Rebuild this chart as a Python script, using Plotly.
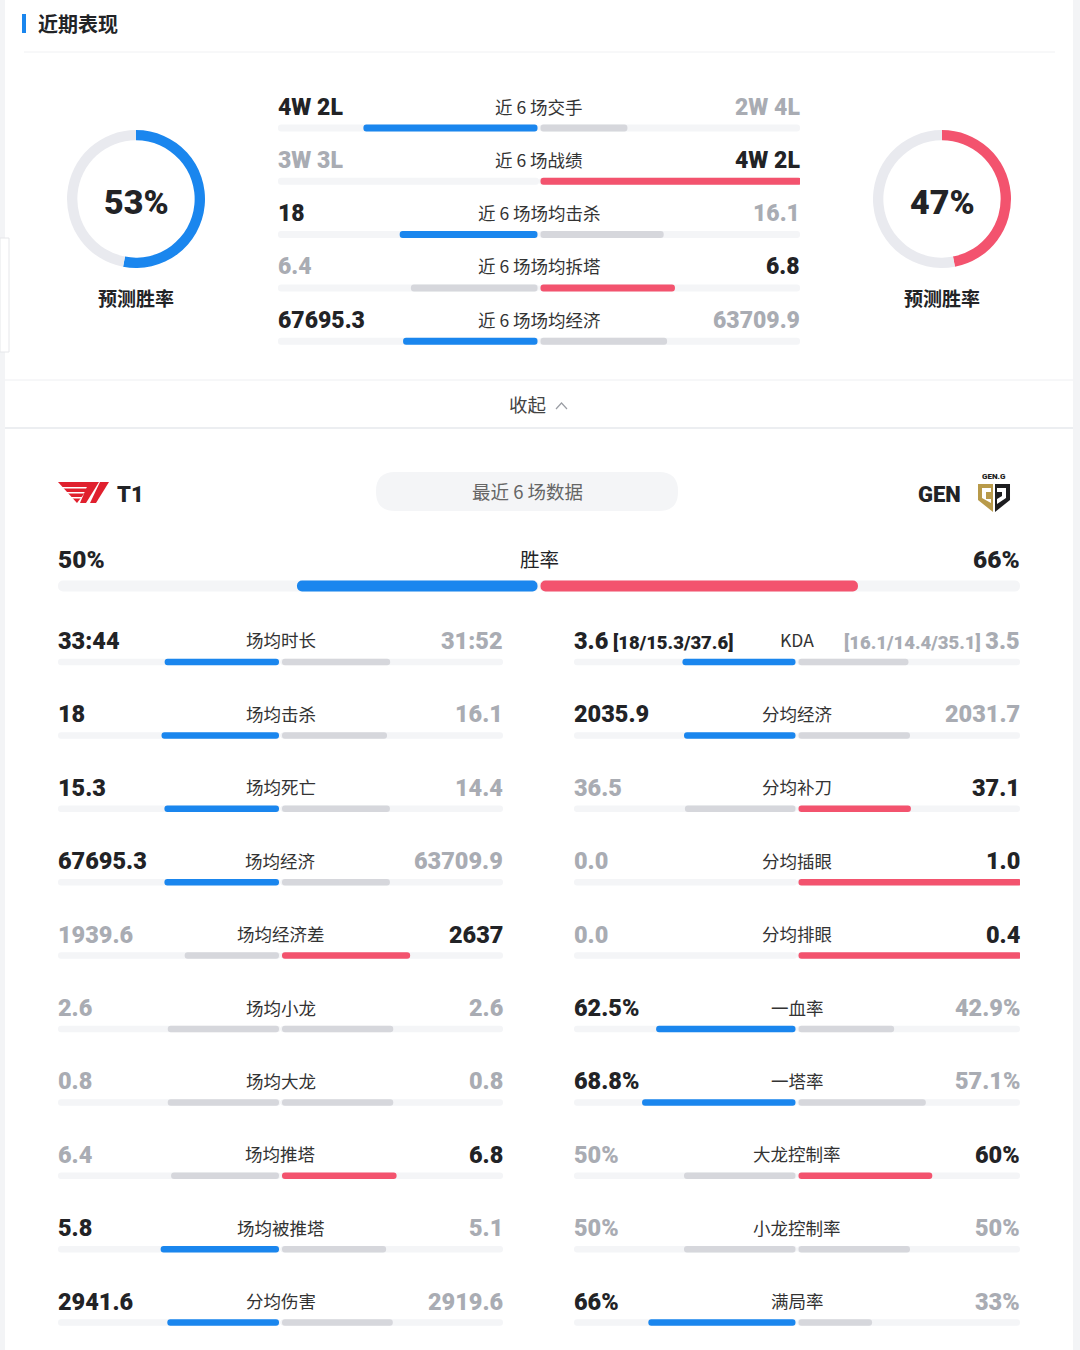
import plotly.graph_objects as go

W, H = 1080, 1350
BLUE = '#1a86ee'
PINK = '#f3536e'
GREY_BAR = '#d6d7dc'
TRACK = '#f4f5f7'
RING = '#e9eaef'
DARK = '#222326'
MUTED = '#a9acb3'
LABEL = '#333333'
NUM_FONT = 'Roboto'
CJK = 'Noto Sans CJK SC'

# ---------------- data ----------------
pred_t1 = 53
pred_gen = 47

top_labels = ['近 6 场交手', '近 6 场战绩', '近 6 场场均击杀', '近 6 场场均拆塔', '近 6 场场均经济']
top_left = ['4W 2L', '3W 3L', '18', '6.4', '67695.3']
top_right = ['2W 4L', '4W 2L', '16.1', '6.8', '63709.9']
top_winner = ['L', 'R', 'L', 'R', 'L']
top_share_left = [0.667, 0.0, 0.528, 0.485, 0.515]
top_share_right = [0.333, 1.0, 0.472, 0.515, 0.485]

team_left = 'T1'
team_right = 'GEN'
period_label = '最近 6 场数据'
winrate_label = '胜率'
winrate_left = '50%'
winrate_right = '66%'
winrate_share_left = [0.50]
winrate_share_right = [0.66]

colA_labels = ['场均时长', '场均击杀', '场均死亡', '场均经济', '场均经济差',
               '场均小龙', '场均大龙', '场均推塔', '场均被推塔', '分均伤害']
colA_left = ['33:44', '18', '15.3', '67695.3', '1939.6', '2.6', '0.8', '6.4', '5.8', '2941.6']
colA_right = ['31:52', '16.1', '14.4', '63709.9', '2637', '2.6', '0.8', '6.8', '5.1', '2919.6']
colA_winner = ['L', 'L', 'L', 'L', 'R', '-', '-', 'R', 'L', 'L']
colA_share_left = [0.514, 0.528, 0.515, 0.515, 0.424, 0.5, 0.5, 0.485, 0.532, 0.502]
colA_share_right = [0.486, 0.472, 0.485, 0.485, 0.576, 0.5, 0.5, 0.515, 0.468, 0.498]

colB_labels = ['KDA', '分均经济', '分均补刀', '分均插眼', '分均排眼',
               '一血率', '一塔率', '大龙控制率', '小龙控制率', '满局率']
colB_left = ['3.6', '2035.9', '36.5', '0.0', '0.0', '62.5%', '68.8%', '50%', '50%', '66%']
colB_right = ['3.5', '2031.7', '37.1', '1.0', '0.4', '42.9%', '57.1%', '60%', '50%', '33%']
colB_left_extra = ['[18/15.3/37.6]', '', '', '', '', '', '', '', '', '']
colB_right_extra = ['[16.1/14.4/35.1]', '', '', '', '', '', '', '', '', '']
colB_winner = ['L', 'L', 'R', 'R', 'R', 'L', 'L', 'R', '-', 'L']
colB_share_left = [0.507, 0.500, 0.496, 0.0, 0.0, 0.625, 0.688, 0.5, 0.5, 0.66]
colB_share_right = [0.493, 0.500, 0.504, 1.0, 1.0, 0.429, 0.571, 0.6, 0.5, 0.33]


# ---------------- helpers ----------------
def X(px):
    return px / W


def Y(py):
    return 1 - py / H


fig = go.Figure()
layout_axes = {}
annotations = []
shapes = []


def numfont(size, color):
    return dict(family=NUM_FONT, size=size, color=color, weight=900)


def add_panel(idx, x0, x1, n, first_bar_px, step_px, thick_px,
              share_l, share_r, winner, vals_l, vals_r, labels,
              val_size, lab_size, text_shift, extra_l=None, extra_r=None, lab_color=LABEL,
              left_colour=None, right_colour=None):
    xa = 'x' if idx == 1 else f'x{idx}'
    ya = 'y' if idx == 1 else f'y{idx}'
    pad = 12
    top = first_bar_px - pad
    bottom = first_bar_px + step_px * (n - 1) + pad
    layout_axes['xaxis' if idx == 1 else f'xaxis{idx}'] = dict(
        domain=[X(x0), X(x1)], range=[-1, 1], visible=False, fixedrange=True,
        anchor=ya)
    layout_axes['yaxis' if idx == 1 else f'yaxis{idx}'] = dict(
        domain=[Y(bottom), Y(top)], range=[n - 1 + pad / step_px, -pad / step_px],
        visible=False, fixedrange=True, anchor=xa)
    half_px = (x1 - x0) / 2
    gap = 1.5 / half_px
    width = thick_px / step_px
    rows = list(range(n))
    rad = thick_px / 2
    for sgn in (-1, 1):
        fig.add_trace(go.Bar(orientation='h', y=rows, x=[sgn * 1.0] * n, base=0,
                             width=width, marker=dict(color=TRACK, cornerradius=rad, line_width=0),
                             xaxis=xa, yaxis=ya, hoverinfo='skip', showlegend=False))
    cl = left_colour or [BLUE if w == 'L' else GREY_BAR for w in winner]
    cr = right_colour or [PINK if w == 'R' else GREY_BAR for w in winner]
    fig.add_trace(go.Bar(orientation='h', y=rows, x=[-s for s in share_l], base=-gap,
                         width=width, marker=dict(color=cl, cornerradius=rad, line_width=0),
                         xaxis=xa, yaxis=ya, hoverinfo='skip', showlegend=False))
    fig.add_trace(go.Bar(orientation='h', y=rows, x=list(share_r), base=gap,
                         width=width, marker=dict(color=cr, cornerradius=rad, line_width=0),
                         xaxis=xa, yaxis=ya, hoverinfo='skip', showlegend=False))
    for i in range(n):
        lc = DARK if winner[i] in ('L', 'B') else MUTED
        rc = DARK if winner[i] in ('R', 'B') else MUTED
        tl = vals_l[i]
        tr = vals_r[i]
        if extra_l and extra_l[i]:
            tl += f"<span style='font-size:{val_size - 5}px'> {extra_l[i]}</span>"
        if extra_r and extra_r[i]:
            tr = f"<span style='font-size:{val_size - 5}px'>{extra_r[i]} </span>" + tr
        annotations.append(dict(text=tl, x=-1, y=i, xref=xa, yref=ya, xanchor='left',
                                yanchor='middle', yshift=text_shift, xshift=-2, showarrow=False,
                                font=numfont(val_size, lc)))
        annotations.append(dict(text=tr, x=1, y=i, xref=xa, yref=ya, xanchor='right',
                                yanchor='middle', yshift=text_shift, xshift=2, showarrow=False,
                                font=numfont(val_size, rc)))
        annotations.append(dict(text=labels[i], x=0, y=i, xref=xa, yref=ya, xanchor='center',
                                yanchor='middle', yshift=text_shift + 1, showarrow=False,
                                font=dict(family=CJK, size=lab_size, color=lab_color)))


# top comparison
add_panel(1, 278, 800, 5, 128, 53.3, 7, top_share_left, top_share_right, top_winner,
          top_left, top_right, top_labels, 23, 17.5, 21)
# win rate (both sides coloured)
add_panel(2, 58, 1020, 1, 586, 40, 11, winrate_share_left, winrate_share_right, ['B'],
          [winrate_left], [winrate_right], [winrate_label], 24.5, 19.5, 26, lab_color=DARK,
          left_colour=[BLUE], right_colour=[PINK])
# bottom columns
add_panel(3, 58, 503, 10, 662, 73.4, 6.5, colA_share_left, colA_share_right, colA_winner,
          colA_left, colA_right, colA_labels, 23.5, 17.5, 21)
add_panel(4, 574, 1020, 10, 662, 73.4, 6.5, colB_share_left, colB_share_right, colB_winner,
          colB_left, colB_right, colB_labels, 23.5, 17.5, 21, colB_left_extra, colB_right_extra)

# donuts
for pct, col, cx in ((pred_t1, BLUE, 136), (pred_gen, PINK, 942)):
    fig.add_trace(go.Pie(values=[pct, 100 - pct], sort=False, direction='clockwise', rotation=0,
                         hole=0.85, domain=dict(x=[X(cx - 69), X(cx + 69)], y=[Y(268), Y(130)]),
                         marker=dict(colors=[col, RING], line=dict(width=0)),
                         textinfo='none', hoverinfo='skip', showlegend=False))
    annotations.append(dict(text=f'{pct}%', x=X(cx), y=Y(202), xref='paper', yref='paper',
                            showarrow=False, xanchor='center', yanchor='middle',
                            font=numfont(34, DARK)))
    annotations.append(dict(text='<b>预测胜率</b>', x=X(cx), y=Y(298), xref='paper', yref='paper',
                            showarrow=False, xanchor='center', yanchor='middle',
                            font=dict(family=CJK, size=19, color=DARK)))


def txt(text, x, y, size, color, anchor='left', family=CJK, weight=None):
    f = dict(family=family, size=size, color=color)
    if weight:
        f['weight'] = weight
    annotations.append(dict(text=text, x=X(x), y=Y(y), xref='paper', yref='paper',
                            showarrow=False, xanchor=anchor, yanchor='middle', font=f))


txt('<b>近期表现</b>', 36, 23, 20, DARK)
txt('收起', 527, 404, 18.5, '#444444', 'center')
txt(team_left, 115, 494, 22, DARK, 'left', NUM_FONT, 900)
txt(team_right, 963, 494, 22, DARK, 'right', NUM_FONT, 900)
txt(period_label, 527, 491, 18.5, '#666666', 'center')
txt('GEN.G', 994, 477, 8, '#222222', 'center', NUM_FONT, 900)


# ---------------- decorative shapes ----------------
def rect(x0, y0, x1, y1, fill, line=None, layer='below'):
    shapes.append(dict(type='rect', xref='paper', yref='paper', x0=X(x0), x1=X(x1),
                       y0=Y(y1), y1=Y(y0), fillcolor=fill, layer=layer,
                       line=dict(width=0 if line is None else 1, color=line or fill)))


def hline(x0, x1, y, color, width=1):
    shapes.append(dict(type='line', xref='paper', yref='paper', x0=X(x0), x1=X(x1),
                       y0=Y(y), y1=Y(y), line=dict(color=color, width=width), layer='below'))


def poly(pts, fill, layer='above'):
    d = 'M ' + ' L '.join(f'{X(a):.5f},{Y(b):.5f}' for a, b in pts) + ' Z'
    shapes.append(dict(type='path', xref='paper', yref='paper', path=d, fillcolor=fill,
                       line=dict(width=0), layer=layer))


def rounded(x0, y0, x1, y1, r, fill):
    d = f'M {X(x0 + r)},{Y(y0)} L {X(x1 - r)},{Y(y0)} Q {X(x1)},{Y(y0)} {X(x1)},{Y(y0 + r)} '
    d += f'L {X(x1)},{Y(y1 - r)} Q {X(x1)},{Y(y1)} {X(x1 - r)},{Y(y1)} '
    d += f'L {X(x0 + r)},{Y(y1)} Q {X(x0)},{Y(y1)} {X(x0)},{Y(y1 - r)} '
    d += f'L {X(x0)},{Y(y0 + r)} Q {X(x0)},{Y(y0)} {X(x0 + r)},{Y(y0)} Z'
    shapes.append(dict(type='path', xref='paper', yref='paper', path=d, fillcolor=fill,
                       line=dict(width=0), layer='below'))


rect(0, 0, 5, 1350, '#f3f4f6')
rect(1073, 0, 1080, 1350, '#f3f4f6')
rect(0, 238, 9, 352, '#ffffff', '#e6e7ea')
rect(22, 14, 26, 33, BLUE)
hline(24, 1055, 52, '#f0f1f3')
hline(5, 1073, 380, '#eeeff2')
hline(5, 1073, 428, '#eceef1', 2)
rounded(376, 472, 678, 511, 19, '#f4f5f7')
# chevron next to 收起
shapes.append(dict(type='path', xref='paper', yref='paper',
                   path=f'M {X(556)},{Y(409)} L {X(561.5)},{Y(403)} L {X(567)},{Y(409)}',
                   line=dict(color='#9a9da4', width=1.2)))
# T1 logo (approximate)
poly([(58, 482), (93, 482), (77, 503)], '#e0202e')
for yy in (487, 492, 497):
    rect(58, yy, 92, yy + 1.6, '#ffffff', layer='above')
poly([(89, 482), (99, 482), (86, 503), (80, 503)], '#e0202e')
poly([(100, 482), (109, 482), (96, 503), (90, 503)], '#e0202e')
# Gen.G logo (approximate)
poly([(978, 484), (993, 484), (993, 512), (978, 500)], '#b89a4a')
poly([(995, 484), (1010, 484), (1010, 500), (995, 512)], '#1d1d1f')
poly([(982, 488), (991, 488), (991, 492), (986, 492), (986, 499), (991, 499), (991, 503), (982, 498)], '#ffffff')
poly([(997, 488), (1006, 488), (1006, 498), (997, 504), (997, 499), (1002, 496), (1002, 492), (997, 492)], '#ffffff')

fig.update_layout(
    width=W, height=H, margin=dict(l=0, r=0, t=0, b=0),
    paper_bgcolor='#ffffff', plot_bgcolor='rgba(0,0,0,0)',
    barmode='overlay', showlegend=False,
    annotations=annotations, shapes=shapes, **layout_axes)

fig.write_html('out.html', config={'displayModeBar': False},
               post_script="document.body.style.margin='0';document.body.style.overflow='hidden';")
